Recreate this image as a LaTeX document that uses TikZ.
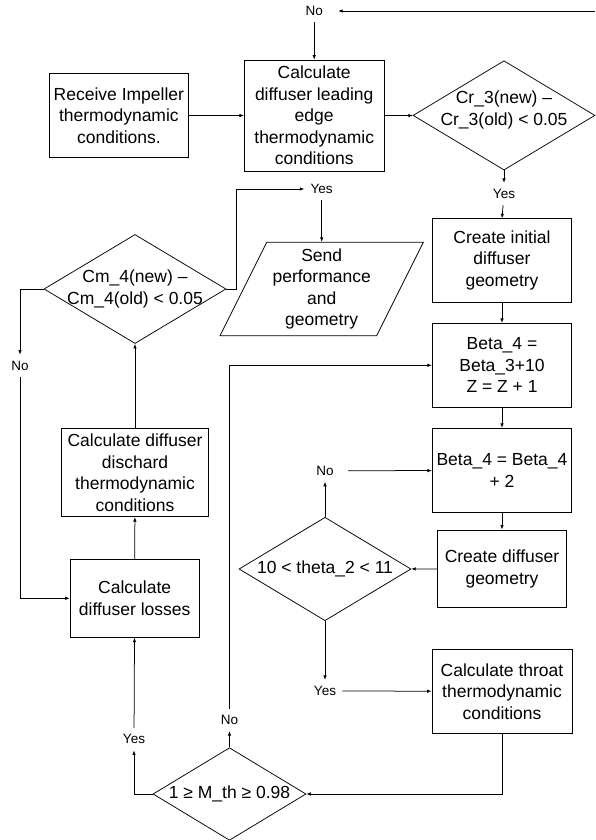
\documentclass[tikz,border=0pt]{standalone}
\usepackage{fontspec}
\setmainfont{Liberation Sans}
\usetikzlibrary{shapes.geometric,arrows.meta}

\begin{document}
\begin{tikzpicture}[x=1pt, y=-1pt, >={Latex[length=4.5pt,width=3.5pt]}, line width=0.75pt,
  every node/.style={font=\fontsize{17.5}{21.5}\selectfont},
  box/.style={draw, rectangle, align=center, inner sep=0pt},
  decision/.style={draw, diamond, inner sep=0pt},
  dtext/.style={align=center, inner sep=0pt},
  lbl/.style={font=\fontsize{13.5}{16}\selectfont, inner sep=6pt}]
\useasboundingbox (0,0) rectangle (595,840);

% Inlet
\node[box, minimum width=139.7pt, minimum height=84pt] (receive) at (118.9,115.3) {Receive Impeller\\thermodynamic\\conditions.};
\node[box, minimum width=139.7pt, minimum height=111.3pt] (leading) at (314.2,115.7) {Calculate\\diffuser leading\\edge\\thermodynamic\\conditions};
\node[decision, minimum width=182pt, minimum height=109.3pt] (cr3) at (504,115.4) {};
\node[dtext] (cr3txt) at (504,110) {Cr\_3(new) –\\Cr\_3(old) < 0.05};
\node[lbl] (notop) at (314.2,11) {No};
\node[lbl] (yescr) at (504,194) {Yes};
\coordinate (edge) at (595,11);

\draw[->, shorten >=9pt] (edge) -- (notop);
\draw[->] (notop) -- (leading);
\draw[->] (receive) -- (leading);
\draw[->] (leading) -- (cr3);
\draw[->] (cr3) -- (yescr);
\draw[->] (yescr) -- (502,218.3);

% Vane geometry
\node[box, minimum width=139.4pt, minimum height=84pt] (initial) at (502,260.3) {Create initial\\diffuser\\geometry};
\node[box, minimum width=139.4pt, minimum height=84pt] (beta1) at (502,365.3) {Beta\_4 =\\Beta\_3+10\\Z = Z + 1};
\node[box, minimum width=139.4pt, minimum height=84.4pt] (beta2) at (502,470.5) {Beta\_4 = Beta\_4\\+ 2};
\node[box, minimum width=129.4pt, minimum height=77.7pt] (create) at (502,568.8) {Create diffuser\\geometry};
\node[decision, minimum width=172pt, minimum height=103.4pt] (theta) at (325,569) {};
\node[dtext] (thetatxt) at (theta) {10 < theta\_2 < 11};
\node[lbl] (notheta) at (325,470.7) {No};
\node[lbl] (yestheta) at (325,691) {Yes};
\node[box, minimum width=140pt, minimum height=84pt] (throat) at (502,691.3) {Calculate throat\\thermodynamic\\conditions};

\draw[->] (initial) -- (beta1);
\draw[->] (beta1) -- (beta2);
\draw[->] (beta2) -- (create);
\draw[->] (create) -- (theta);
\draw[->] (theta) -- (notheta);
\draw[->, shorten <=8pt] (notheta) -- (beta2);
\draw[->] (theta) -- (yestheta);
\draw[->] (yestheta) -- (throat);

% Throat check
\node[decision, minimum width=153pt, minimum height=92.6pt] (mth) at (229.5,794) {};
\node[dtext] (mthtxt) at (mth) {1 ≥ M\_th ≥ 0.98};
\node[lbl] (nomth) at (229.5,720) {No};
\node[lbl] (yesmth) at (134,739.3) {Yes};

\draw[->] (throat) |- (mth);
\draw[->] (mth) -- (nomth);
\draw[->] (nomth) |- (beta1);
\draw[->] (mth) -| (yesmth);

% Losses and outlet
\node[box, minimum width=129.3pt, minimum height=78pt] (losses) at (134.7,598.3) {Calculate\\diffuser losses};
\node[box, minimum width=146.6pt, minimum height=88.4pt] (dischard) at (135,472.5) {Calculate diffuser\\dischard\\thermodynamic\\conditions};
\node[decision, minimum width=182pt, minimum height=109pt] (cm4) at (135,289) {};
\node[dtext] (cm4txt) at (cm4) {Cm\_4(new) –\\Cm\_4(old) < 0.05};
\node[lbl] (nocm4) at (20,365.7) {No};
\node[lbl] (yescm4) at (321.7,189) {Yes};
\node[dtext, minimum width=156.6pt, minimum height=93.4pt] (send) at (321.7,289) {Send\\performance\\and\\geometry};
\draw (send.center) ++(-101.65,46.7) -- ++(46.7,-93.4) -- ++(156.6,0) -- ++(-46.7,93.4) -- cycle;

\draw[->] (yesmth) -- (losses);
\draw[->] (losses) -- (dischard);
\draw[->] (dischard) -- (cm4);
\draw[->] (cm4) -| (nocm4);
\draw[->] (nocm4) |- (losses);
\draw[->] (cm4.east) -- ++(10,0) |- (yescm4);
\draw[->] (yescm4) -- (send);
\end{tikzpicture}
\end{document}
